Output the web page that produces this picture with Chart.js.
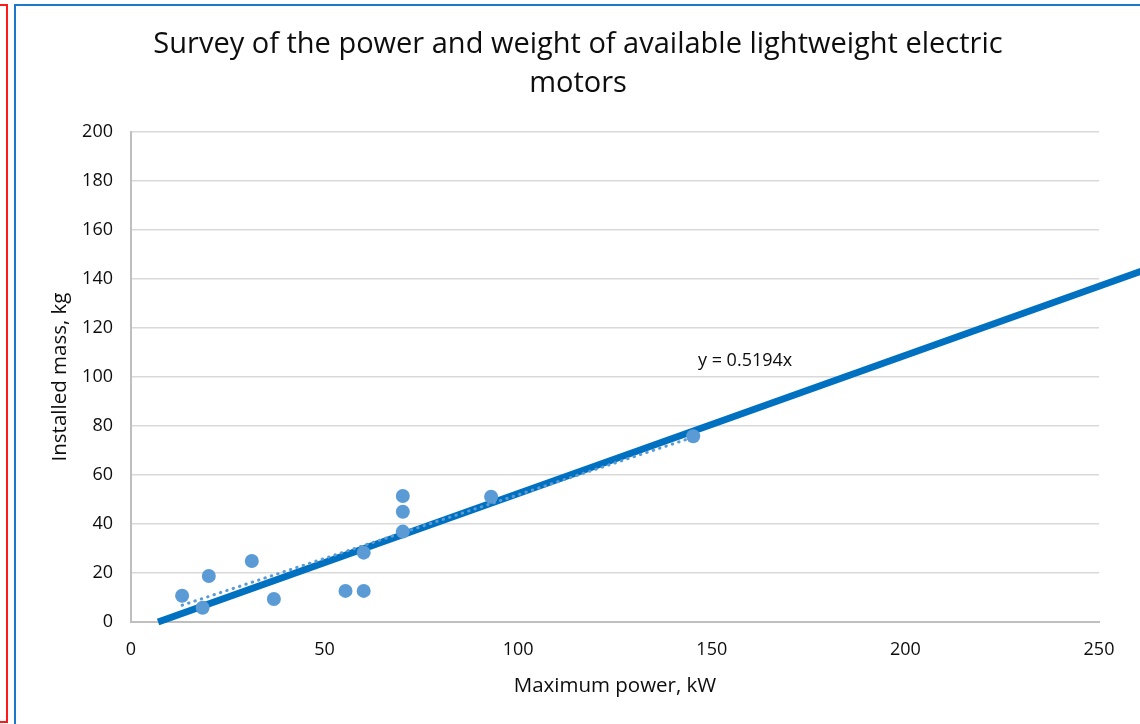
<!DOCTYPE html>
<html>
<head>
<meta charset="utf-8">
<script src="https://cdn.jsdelivr.net/npm/chart.js@4/dist/chart.umd.min.js"></script>
<style>
  body { margin: 0; background: #fff; overflow: hidden; }
  .red-frame { position: absolute; left: -10px; top: 4px; width: 14px; height: 715px; border: 2px solid #ff1a1a; }
  .blue-frame { position: absolute; left: 14px; top: 4px; width: 1140px; height: 740px; border: 2px solid #1e78c8; }
  #chart { position: absolute; left: 0; top: 0; }
</style>
</head>
<body>
<div class="red-frame"></div>
<div class="blue-frame"></div>
<canvas id="chart" width="1140" height="724"></canvas>
<script>
"use strict";

//Data
const powerKw = [13.2, 18.5, 20.1, 31.2, 36.9, 55.4, 60.1, 60.1, 70.2, 70.2, 70.2, 93.0, 145.2];
const massKg = [10.7, 5.8, 18.8, 24.9, 9.4, 12.7, 12.7, 28.3, 51.4, 45.0, 36.9, 51.1, 75.8];

//thick reference line
const refLineX = [7, 262];
const refLineY = [0, 143.8];

//trendline y = 0.5194x
const trendSlope = 0.5194;
const trendLabel = "y = 0.5194x";
const trendLabelAt = { x: 158.6, y: 104.5 };

const titleLines = ["Survey of the power and weight of available lightweight electric", "motors"];
const xTitle = "Maximum power, kW";
const yTitle = "Installed mass, kg";
const xRange = [0, 250, 50];
const yRange = [0, 200, 20];

const trendX = [Math.min(...powerKw), Math.max(...powerKw)];

const font = "'Open Sans', 'DejaVu Sans', sans-serif";
const textColor = "#0d0d0d";

//title + equation drawn by hand so the title centres on the frame
const extras = {
  id: "extras",
  afterDatasetsDraw(chart) {
    const ctx = chart.ctx;
    ctx.save();
    ctx.fillStyle = textColor;
    ctx.textAlign = "center";
    ctx.textBaseline = "middle";
    ctx.font = "29px " + font;
    titleLines.forEach((line, i) => ctx.fillText(line, 578, 45 + i * 39));

    const sx = chart.scales.x, sy = chart.scales.y;
    ctx.font = "18px " + font;
    ctx.textBaseline = "alphabetic";
    ctx.fillText(trendLabel, sx.getPixelForValue(trendLabelAt.x), sy.getPixelForValue(trendLabelAt.y));
    ctx.restore();
  },
};

new Chart(document.getElementById("chart"), {
  type: "scatter",
  data: {
    datasets: [
      {
        label: "Motors",
        data: powerKw.map((x, i) => ({ x, y: massKg[i] })),
        backgroundColor: "#5b9bd5",
        borderColor: "#5b9bd5",
        pointRadius: 7,
        pointBorderWidth: 0,
        order: 0,
      },
      {
        label: "Trend",
        data: trendX.map((x) => ({ x, y: trendSlope * x })),
        showLine: true,
        borderColor: "#5b9bd5",
        borderWidth: 3,
        borderDash: [0.5, 6.2],
        borderCapStyle: "round",
        pointRadius: 0,
        order: 1,
      },
      {
        label: "Reference",
        data: refLineX.map((x, i) => ({ x, y: refLineY[i] })),
        showLine: true,
        borderColor: "#0070c0",
        borderWidth: 7,
        pointRadius: 0,
        clip: false,
        order: 2,
      },
    ],
  },
  options: {
    responsive: false,
    animation: false,
    devicePixelRatio: 1,
    layout: { padding: { top: 132, left: 15, right: 41, bottom: 0 } },
    plugins: {
      legend: { display: false },
      tooltip: { enabled: false },
    },
    scales: {
      x: {
        type: "linear",
        min: xRange[0],
        max: xRange[1],
        afterFit(scale) { scale.height = 102; },
        ticks: { stepSize: xRange[2], padding: 17, color: textColor, font: { family: font, size: 18 } },
        grid: { display: false, drawTicks: false },
        border: { color: "#bfbfbf", width: 2 },
        title: { display: true, text: xTitle, color: textColor, font: { family: font, size: 20.5 }, padding: { top: 0, bottom: 25.7 } },
      },
      y: {
        min: yRange[0],
        max: yRange[1],
        afterFit(scale) { scale.width = 116; },
        ticks: { stepSize: yRange[2], padding: 18, color: textColor, font: { family: font, size: 18 } },
        grid: { color: "#d9d9d9", lineWidth: 1.5, drawTicks: false },
        border: { color: "#bfbfbf", width: 2 },
        title: { display: true, text: yTitle, color: textColor, font: { family: font, size: 20.5 }, padding: { top: 32.7, bottom: 0 } },
      },
    },
  },
  plugins: [extras],
});
</script>
</body>
</html>
